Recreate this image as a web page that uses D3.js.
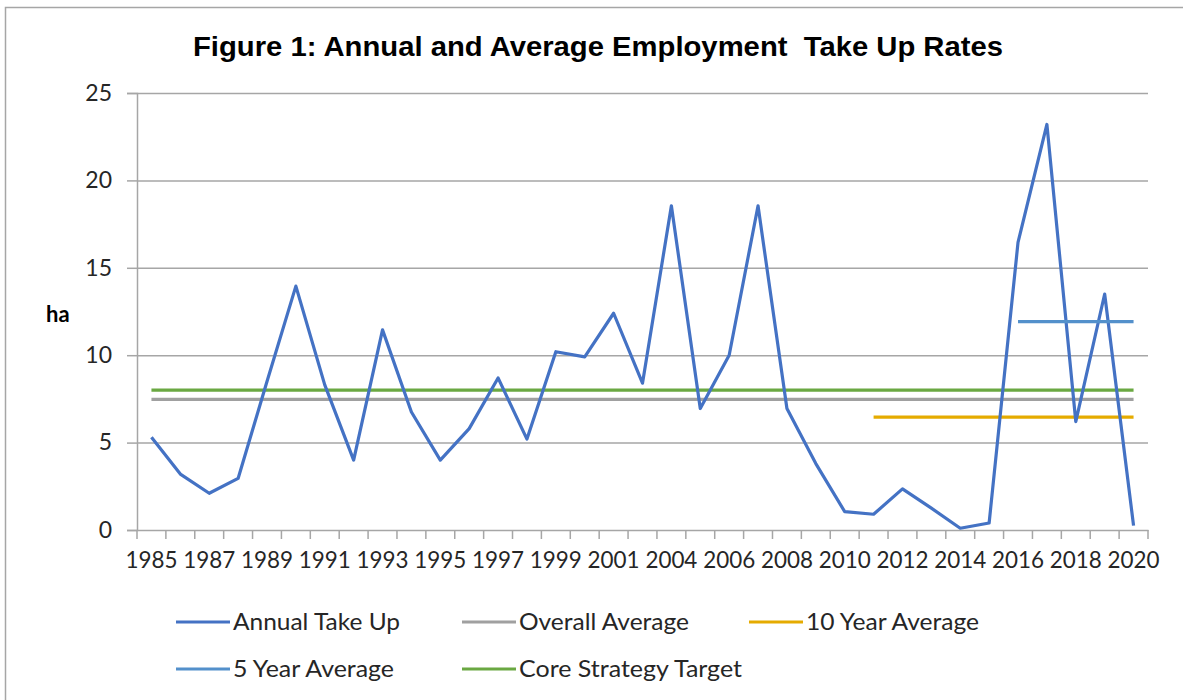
<!DOCTYPE html>
<html>
<head>
<meta charset="utf-8">
<script src="https://cdn.jsdelivr.net/npm/d3@7"></script>
<style>
  html, body { margin: 0; padding: 0; background: #fff; }
  svg { display: block; }
</style>
</head>
<body>
<div id="chart"></div>
<script>
// ---------- DATA ----------
const categories = ["1985","1986","1987","1988","1989","1990","1991","1992","1993","1994",
  "1995","1996","1997","1998","1999","2000","2001","2002/03","2004","2005","2006","2007",
  "2008","2009","2010","2011","2012","2013","2014","2015","2016","2017","2018","2019","2020"];

const tickLabels = ["1985","1987","1989","1991","1993","1995","1997","1999","2001","2004",
  "2006","2008","2010","2012","2014","2016","2018","2020"];

const annualTakeUp = [5.3, 3.2, 2.1, 2.95, 8.5, 13.95, 8.3, 4.0, 11.45, 6.75,
  4.0, 5.8, 8.7, 5.2, 10.2, 9.9, 12.4, 8.4, 18.55, 6.95, 10.0, 18.55,
  6.95, 3.8, 1.05, 0.9, 2.35, 1.25, 0.1, 0.4, 16.45, 23.2, 6.2, 13.5, 0.25];

const overallAverage = [7.47, 7.47, 7.47, 7.47, 7.47, 7.47, 7.47, 7.47, 7.47, 7.47,
  7.47, 7.47, 7.47, 7.47, 7.47, 7.47, 7.47, 7.47, 7.47, 7.47, 7.47, 7.47,
  7.47, 7.47, 7.47, 7.47, 7.47, 7.47, 7.47, 7.47, 7.47, 7.47, 7.47, 7.47, 7.47];

const tenYearAverage = [null, null, null, null, null, null, null, null, null, null,
  null, null, null, null, null, null, null, null, null, null, null, null,
  null, null, null, 6.46, 6.46, 6.46, 6.46, 6.46, 6.46, 6.46, 6.46, 6.46, 6.46];

const fiveYearAverage = [null, null, null, null, null, null, null, null, null, null,
  null, null, null, null, null, null, null, null, null, null, null, null,
  null, null, null, null, null, null, null, null, 11.92, 11.92, 11.92, 11.92, 11.92];

const coreStrategyTarget = [8, 8, 8, 8, 8, 8, 8, 8, 8, 8,
  8, 8, 8, 8, 8, 8, 8, 8, 8, 8, 8, 8,
  8, 8, 8, 8, 8, 8, 8, 8, 8, 8, 8, 8, 8];

const yTicks = [0, 5, 10, 15, 20, 25];

const seriesNames = ["Annual Take Up", "Overall Average", "10 Year Average", "5 Year Average", "Core Strategy Target"];

// ---------- LAYOUT ----------
const W = 1183, H = 700;
const plot = { left: 137, right: 1148, top: 93, bottom: 530 };

const svg = d3.select("#chart").append("svg")
  .attr("width", W).attr("height", H);

// outer frame
svg.append("rect")
  .attr("x", 5.5).attr("y", 7.5).attr("width", 1200).attr("height", 720)
  .attr("fill", "#fff").attr("stroke", "#A6A6A6").attr("stroke-width", 1.5);

// title
svg.append("text")
  .attr("x", 598).attr("y", 56)
  .attr("text-anchor", "middle")
  .attr("font-family", "'Liberation Sans', Arial, sans-serif")
  .attr("font-weight", "bold")
  .attr("font-size", 28)
  .attr("textLength", 810)
  .attr("lengthAdjust", "spacingAndGlyphs")
  .attr("fill", "#000")
  .style("white-space", "pre")
  .text("Figure 1: Annual and Average Employment  Take Up Rates");

// scales
const x = d3.scaleBand().domain(categories).range([plot.left, plot.right]).paddingInner(0).paddingOuter(0);
const cx = c => x(c) + x.bandwidth() / 2;
const y = d3.scaleLinear().domain([0, 25]).range([plot.bottom, plot.top]);

const axisColor = "#A6A6A6";
const fontLabel = "Lato, 'Open Sans', sans-serif";

// gridlines
const grid = svg.append("g")
  .attr("transform", `translate(${plot.left},0)`)
  .call(d3.axisLeft(y).tickValues(yTicks.filter(t => t > 0)).tickSize(-(plot.right - plot.left)).tickFormat(""));
grid.select(".domain").remove();
grid.selectAll("line").attr("stroke", axisColor).attr("stroke-width", 1.5);

// y axis
const yAxis = svg.append("g")
  .attr("transform", `translate(${plot.left},0)`)
  .call(d3.axisLeft(y).tickValues(yTicks).tickSize(10).tickPadding(15));
yAxis.select(".domain").attr("stroke", axisColor).attr("stroke-width", 1.5);
yAxis.selectAll("line").attr("stroke", axisColor).attr("stroke-width", 1.5);
yAxis.selectAll("text")
  .attr("font-family", fontLabel).attr("font-size", 23).attr("fill", "#262626");

// x axis line
const xAxis = svg.append("g")
  .attr("transform", `translate(0,${plot.bottom})`)
  .call(d3.axisBottom(x).tickValues(tickLabels).tickSize(0).tickPadding(22));
xAxis.select(".domain").attr("stroke", axisColor).attr("stroke-width", 1.5);
xAxis.selectAll("text")
  .attr("font-family", fontLabel).attr("font-size", 23).attr("fill", "#262626")
  .attr("textLength", 52).attr("lengthAdjust", "spacingAndGlyphs");

// x tick marks at band boundaries
const boundaries = categories.map(c => x(c)).concat([plot.right]);
xAxis.selectAll("line.bt").data(boundaries).join("line")
  .attr("class", "bt")
  .attr("x1", d => d).attr("x2", d => d)
  .attr("y1", 0).attr("y2", 9)
  .attr("stroke", axisColor).attr("stroke-width", 1.5);

// "ha" axis title
svg.append("text")
  .attr("x", 46).attr("y", 322)
  .attr("font-family", fontLabel).attr("font-weight", "bold").attr("font-size", 22)
  .attr("fill", "#000")
  .text("ha");

// series
const colors = {
  "Annual Take Up": "#4472C4",
  "Overall Average": "#A0A0A0",
  "10 Year Average": "#E5AB00",
  "5 Year Average": "#5390CB",
  "Core Strategy Target": "#6AA842"
};
const seriesData = {
  "Annual Take Up": annualTakeUp,
  "Overall Average": overallAverage,
  "10 Year Average": tenYearAverage,
  "5 Year Average": fiveYearAverage,
  "Core Strategy Target": coreStrategyTarget
};
const line = d3.line()
  .defined(d => d.v !== null)
  .x(d => cx(d.c))
  .y(d => y(d.v));

const drawOrder = ["Overall Average", "Core Strategy Target", "10 Year Average", "Annual Take Up", "5 Year Average"];
drawOrder.forEach(name => {
  const pts = categories.map((c, i) => ({ c, v: seriesData[name][i] }));
  svg.append("path")
    .datum(pts)
    .attr("fill", "none")
    .attr("stroke", colors[name])
    .attr("stroke-width", 3.2)
    .attr("stroke-linejoin", "round")
    .attr("d", line);
});

// legend
const legendItems = [
  { name: "Annual Take Up", x: 176, y: 622, w: 167 },
  { name: "Overall Average", x: 462, y: 622, w: 170 },
  { name: "10 Year Average", x: 749, y: 622, w: 173 },
  { name: "5 Year Average", x: 176, y: 669, w: 161 },
  { name: "Core Strategy Target", x: 462, y: 669, w: 223 }
];
const lg = svg.append("g");
legendItems.forEach(it => {
  lg.append("line")
    .attr("x1", it.x).attr("x2", it.x + 54)
    .attr("y1", it.y).attr("y2", it.y)
    .attr("stroke", colors[it.name]).attr("stroke-width", 3.2);
  lg.append("text")
    .attr("x", it.x + 57).attr("y", it.y + 8)
    .attr("font-family", fontLabel).attr("font-size", 23).attr("fill", "#262626")
    .attr("textLength", it.w).attr("lengthAdjust", "spacingAndGlyphs")
    .text(it.name);
});
</script>
</body>
</html>
